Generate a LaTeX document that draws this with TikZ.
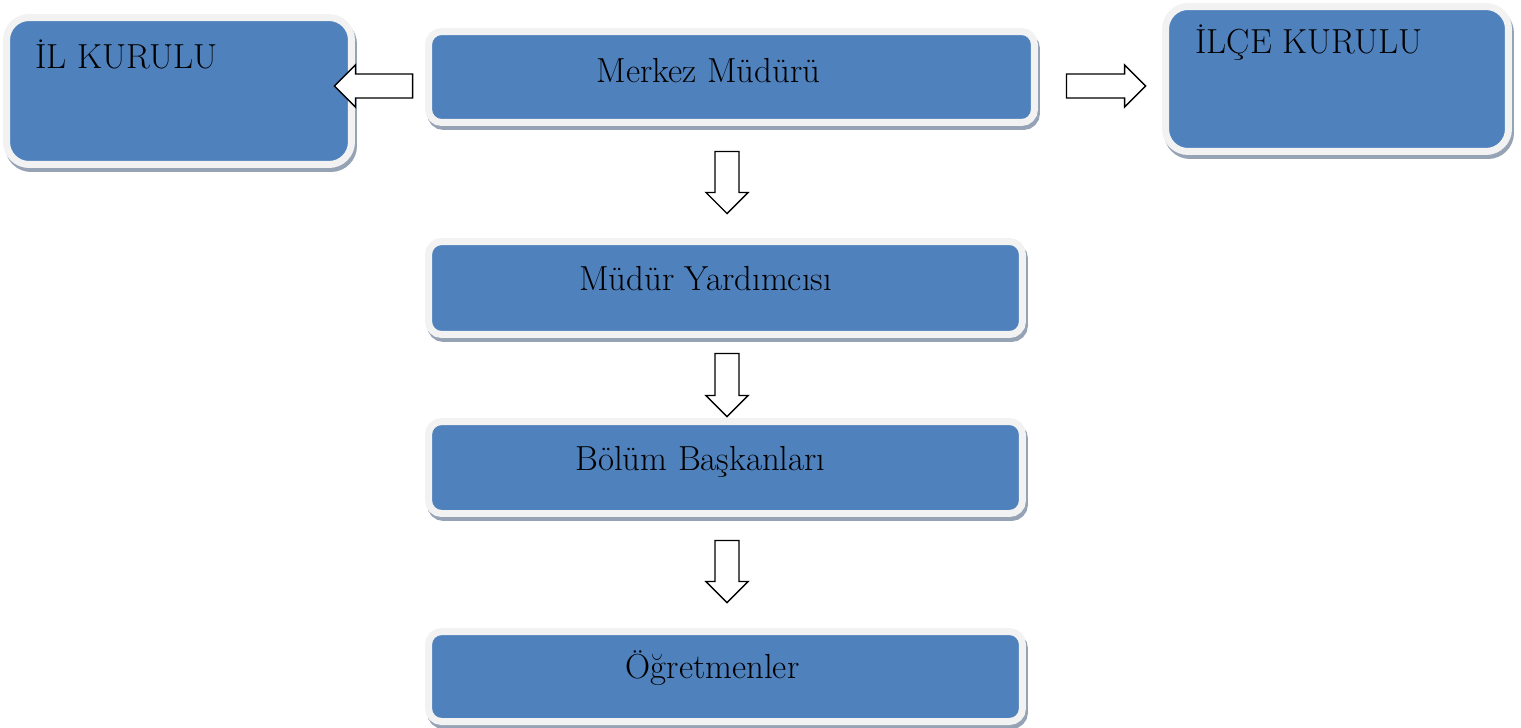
\documentclass[tikz,border=0pt]{standalone}
\usepackage{fontspec}
\usetikzlibrary{calc}
\definecolor{boxblue}{HTML}{4F81BD}
\definecolor{boxrim}{HTML}{F2F2F2}
\definecolor{boxshade}{HTML}{96A3B5}
\tikzset{
%%%%%%%%%%  Node styles
office/.style={draw=boxrim, fill=boxblue, line width=0.14cm,
               rounded corners=0.26cm, inner sep=0pt,
               preaction={draw=boxshade, fill=boxshade, line width=0.14cm,
                          transform canvas={shift={(0.04cm,-0.08cm)}}}},
council/.style={office, rounded corners=0.45cm},
title/.style={inner sep=0pt, font=\fontsize{19.8}{24}\selectfont},
%%%%%%% block arrows between the boxes
blockarrow/.style={draw=black, fill=white, line width=0.8pt,
  to path={($(\tikztotarget)!0.42cm!(\tikztostart)$) coordinate (hb)
    ($(\tikztostart)!0.24cm!90:(\tikztotarget)$)
    -- ($(hb)!0.24cm!90:(\tikztotarget)$)
    -- ($(hb)!0.42cm!90:(\tikztotarget)$)
    -- (\tikztotarget)
    -- ($(hb)!0.42cm!-90:(\tikztotarget)$)
    -- ($(hb)!0.24cm!-90:(\tikztotarget)$)
    -- ($(\tikztostart)!0.24cm!-90:(\tikztotarget)$) -- cycle}}
}

\begin{document}
\begin{tikzpicture}[x=0.02cm, y=-0.02cm]
\useasboundingbox (0,0) rectangle (1521,727);
%%%% boxes
\node[council, minimum width=6.9cm, minimum height=2.94cm] (il) at (179,91) {};
\node[office, minimum width=12.12cm, minimum height=1.82cm] (merkez) at (731.5,77) {};
\node[council, minimum width=6.86cm, minimum height=2.9cm] (ilce) at (1337,79) {};
\node[office, minimum width=11.88cm, minimum height=1.86cm] (yard) at (725.5,288) {};
\node[office, minimum width=11.88cm, minimum height=1.84cm] (bolum) at (725.5,467.5) {};
\node[office, minimum width=11.88cm, minimum height=1.8cm] (ogret) at (725.5,676.5) {};
%%%% texts
\node[title, anchor=base west] (il-t) at (35,68) {İL KURULU};
\node[title, anchor=base west] (ilce-t) at (1195,53) {İLÇE KURULU};
\node[title, anchor=base] (merkez-t) at (708.5,82) {Merkez Müdürü};
\node[title, anchor=base] (yard-t) at (705.5,290) {Müdür Yardımcısı};
\node[title, anchor=base] (bolum-t) at (700.5,470) {Bölüm Başkanları};
\node[title, anchor=base] (ogret-t) at (712.5,678) {Öğretmenler};
%%%% arrow ends
\coordinate (l-tail) at ($(merkez.west)+(-12.5,9)$);
\coordinate (l-tip) at ($(il.east)+(-20.5,-5)$);
\coordinate (r-tail) at ($(merkez.east)+(28.5,9)$);
\coordinate (r-tip) at ($(ilce.west)+(-16.5,7)$);
\coordinate (d1-tail) at ($(merkez.south)+(-4.5,25.5)$);
\coordinate (d1-tip) at ($(yard.north)+(1.5,-24.5)$);
\coordinate (d2-tail) at ($(yard.south)+(1.5,15.5)$);
\coordinate (d2-tip) at ($(bolum.north)+(1.5,-1.5)$);
\coordinate (d3-tail) at ($(bolum.south)+(1.5,23.5)$);
\coordinate (d3-tip) at ($(ogret.north)+(1.5,-25.5)$);
\foreach \a in {l,r,d1,d2,d3}
  \draw[blockarrow] (\a-tail) to (\a-tip);
\end{tikzpicture}
\end{document}
